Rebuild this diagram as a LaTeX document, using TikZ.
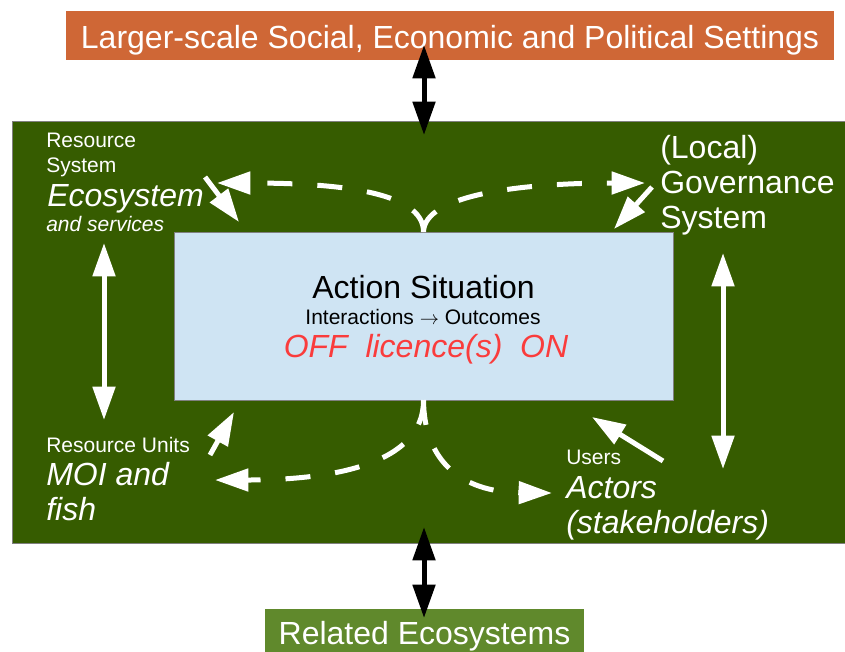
\documentclass[tikz,border=0pt]{standalone}
\usepackage{fontspec}
\setmainfont{Liberation Sans}
\usetikzlibrary{arrows.meta}
\definecolor{setorange}{RGB}{207,103,54}
\definecolor{sesgreen}{RGB}{54,92,0}
\definecolor{relgreen}{RGB}{96,137,44}
\definecolor{asblue}{RGB}{207,228,243}
\definecolor{offred}{RGB}{250,60,60}
\newcommand{\bigtxt}{\fontsize{24}{26.25}\selectfont}
\newcommand{\smalltxt}{\fontsize{15.75}{18.75}\selectfont}

\begin{document}
\begin{tikzpicture}[x=0.75pt,y=-0.75pt,>={Triangle[length=25pt,width=16.5pt]}]
  \tikzset{box/.style={inner sep=0pt,outer sep=0pt},
    lbl/.style={text=white,inner sep=0pt,anchor=base west,align=left},
    blink/.style={draw=black,line width=3.75pt},
    wlink/.style={draw=white,line width=3.75pt},
    dlink/.style={wlink,dash pattern=on 18.75pt off 18.75pt}}
  \useasboundingbox (0,0) rectangle (845,651);
  \node[box,fill=setorange,minimum width=576pt,minimum height=36.75pt,text=white,font=\bigtxt,text height=18.75pt,text depth=0pt] (settings) at (450,35.5) {Larger-scale Social, Economic and Political Settings};
  \node[box,fill=sesgreen,draw=gray,line width=0.75pt,minimum width=625.5pt,minimum height=316.5pt] (ses) at (429,332) {};
  \node[box,fill=asblue,draw=gray,line width=0.75pt,minimum width=374.25pt,minimum height=126pt] (asit) at (423.5,316) {};
  \node[box,fill=relgreen,minimum width=239.25pt,minimum height=34.5pt,text=white,font=\bigtxt,text height=18pt,text depth=0pt] (related) at (424.5,632) {Related Ecosystems};

  \node[anchor=base,inner sep=0pt,font=\fontsize{24}{26}\selectfont] (astitle) at (423.5,298) {Action Situation};
  \node[anchor=base,inner sep=0pt,font=\smalltxt] (asflow) at (423,324) {Interactions $\rightarrow$ Outcomes};
  \node[anchor=base,inner sep=0pt,font=\bigtxt\itshape,text=offred] (licence) at (426,357) {OFF\ \ licence(s)\ \ ON};

  \node[lbl,font=\smalltxt] (rsname) at (46,172) {Resource\\System};
  \node[lbl,font=\bigtxt\itshape] (rseco) at (47,206) {Ecosystem};
  \node[lbl,font=\smalltxt\itshape] (rsserv) at (46,231) {and services};
  \node[lbl,font=\bigtxt] (gov) at (660,228) {(Local)\\Governance\\System};
  \node[lbl,font=\smalltxt] (runame) at (46,452) {Resource Units};
  \node[lbl,font=\bigtxt\itshape] (moi) at (46,520) {MOI and\\fish};
  \node[lbl,font=\smalltxt] (usrname) at (566,464) {Users};
  \node[lbl,font=\bigtxt\itshape] (actors) at (566,533) {Actors\\(stakeholders)};

  \coordinate (settip) at (424,45);   \coordinate (sestip) at (424,135);
  \coordinate (sesfoot) at (424,527); \coordinate (reltip) at (424,618);
  \coordinate (rstop) at (104,243);   \coordinate (rubot) at (104,420);
  \coordinate (govtop) at (723,253);  \coordinate (actbot) at (723,469);
  \coordinate (ecotail) at (205,177); \coordinate (ecotip) at (239,222);
  \coordinate (govtail) at (652,187); \coordinate (govtip) at (614,229);
  \coordinate (moitail) at (210,455); \coordinate (moitip) at (234,412);
  \coordinate (usrtail) at (663,461); \coordinate (usrtip) at (592,417);
  \coordinate (rsend) at (217,183);   \coordinate (govend) at (645,183);
  \coordinate (ruend) at (215,480);   \coordinate (actend) at (552,493);

  \draw[blink,<->] (settip) -- (sestip);
  \draw[blink,<->] (sesfoot) -- (reltip);
  \draw[wlink,<->] (rstop) -- (rubot);
  \draw[wlink,<->] (govtop) -- (actbot);
  \draw[wlink,->] (ecotail) -- (ecotip);
  \draw[wlink,->] (govtail) -- (govtip);
  \draw[wlink,->] (moitail) -- (moitip);
  \draw[wlink,->] (usrtail) -- (usrtip);
  \draw[dlink,->] (asit.north) .. controls (424,190) and (330,183) .. (rsend);
  \draw[dlink,->] (asit.north) .. controls (424,195) and (520,183) .. (govend);
  \draw[dlink,->] (asit.south) .. controls (424,465) and (330,480) .. (ruend);
  \draw[dlink,->] (asit.south) .. controls (424,460) and (460,492) .. (actend);
\end{tikzpicture}
\end{document}
